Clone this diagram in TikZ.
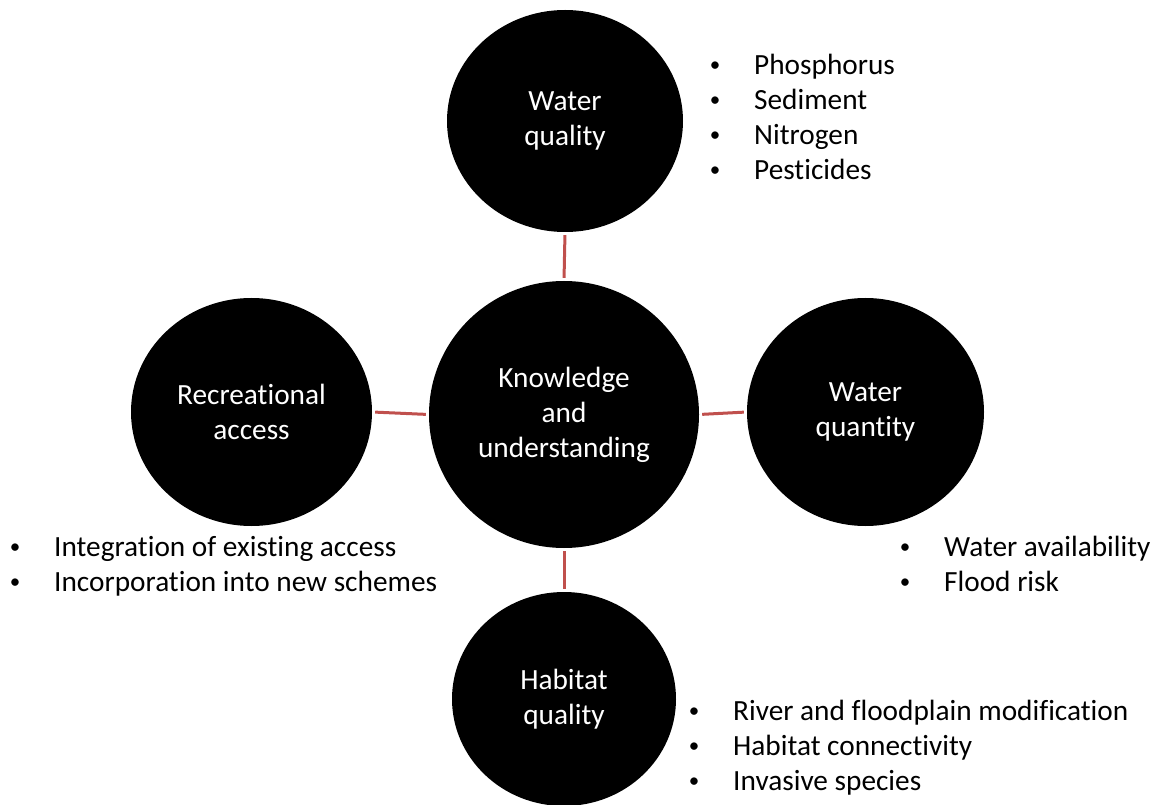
\documentclass[tikz,border=0pt]{standalone}
\usepackage{fontspec}
\setmainfont{Carlito}[Ligatures=NoCommon]
\usetikzlibrary{shapes.geometric}
\definecolor{linkred}{HTML}{C0504D}
% bullet list: fixed-width bullet column, then the item text
\newcommand{\itemrows}[1]{\begin{tabular}[t]{@{}l@{}l@{}}#1\end{tabular}}
\newcommand{\bul}{\makebox[46pt][l]{\makebox[14pt][c]{\raisebox{3pt}{\fontsize{21}{21}\selectfont\textbullet}}}}
\begin{document}
\begin{tikzpicture}[x=1pt,y=-1pt,
  topic/.style={ellipse, fill=black, draw=none, inner sep=0pt, text=white,
    align=center, font=\fontsize{29.3}{35}\selectfont},
  link/.style={draw=linkred, line width=3pt, shorten <=3pt, shorten >=3pt},
  itemlist/.style={anchor=base west, inner sep=0pt,
    font=\fontsize{29.3}{35}\selectfont}]
\useasboundingbox (0,0) rectangle (1160,805);

% the five topics
\node[topic, minimum width=270pt, minimum height=267pt] (ku) at (564,414.5) {Knowledge\\and\\understanding};
\node[topic, minimum width=236pt, minimum height=222pt] (wq) at (565,121) {Water\\quality};
\node[topic, minimum width=241pt, minimum height=228pt] (ra) at (251.5,412) {Recreational\\access};
\node[topic, minimum width=237pt, minimum height=228pt] (wt) at (865.5,412) {Water\\quantity};
\node[topic, minimum width=224pt, minimum height=214pt] (hq) at (564,699) {Habitat\\quality};

% links to the centre
\draw[link] (wq.south) -- (ku.north);
\draw[link] (ra.east) -- (ku.west);
\draw[link] (ku.east) -- (wt.west);
\draw[link] (ku.south) -- (hq.north);

% item lists
\node[itemlist] (wqitems) at (708,75) {\itemrows{\bul & Phosphorus\\ \bul & Sediment\\ \bul & Nitrogen\\ \bul & Pesticides}};
\node[itemlist] (raitems) at (8,556) {\itemrows{\bul & Integration of existing access\\ \bul & Incorporation into new schemes}};
\node[itemlist] (wtitems) at (898,556) {\itemrows{\bul & Water availability\\ \bul & Flood risk}};
\node[itemlist] (hqitems) at (687,720) {\itemrows{\bul & River and floodplain modification\\ \bul & Habitat connectivity\\ \bul & Invasive species}};
\end{tikzpicture}
\end{document}
